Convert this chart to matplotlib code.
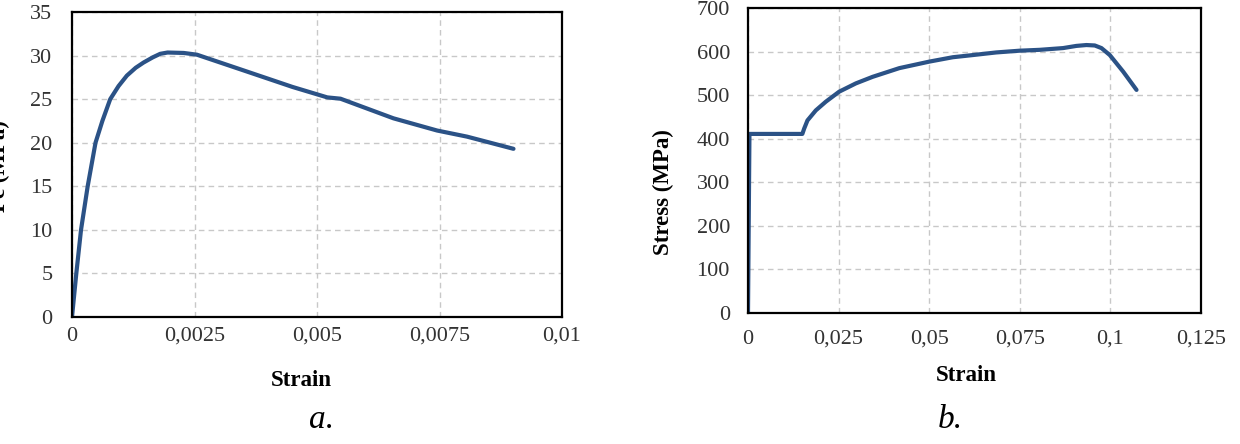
import matplotlib
matplotlib.use("Agg")
import matplotlib.pyplot as plt
from matplotlib.ticker import FuncFormatter

# concrete compression curve (a.)
strain_a = [0, 0.000088, 0.000184, 0.00032, 0.00048, 0.00062, 0.00078,
            0.00095, 0.00112, 0.0013, 0.00146, 0.00165, 0.0018, 0.00195,
            0.00228, 0.00255, 0.0035, 0.0045, 0.00521, 0.00548, 0.00656,
            0.00745, 0.00806, 0.00901]
fc_a = [0, 5, 10, 15, 20, 22.5, 25, 26.5, 27.7, 28.6, 29.2, 29.8, 30.2, 30.35,
        30.3, 30.1, 28.3, 26.4, 25.2, 25.05, 22.8, 21.4, 20.7, 19.3]

# steel tension curve (b.)
strain_b = [0, 0.0004, 0.015, 0.01549, 0.01641, 0.01871, 0.02148, 0.02517,
            0.02977, 0.03438, 0.04176, 0.05006, 0.05651, 0.06204, 0.06849,
            0.07494, 0.08047, 0.08693, 0.09061, 0.09338, 0.09569, 0.09753,
            0.09983, 0.10352, 0.10721]
stress_b = [0, 411, 411, 423, 442, 465, 485, 508, 527, 542, 562, 577, 587,
            592, 598, 602, 604, 608, 613, 615, 614, 608, 592, 554, 512]

xticks_a = [0, 0.0025, 0.005, 0.0075, 0.01]
yticks_a = [0, 5, 10, 15, 20, 25, 30, 35]
xticks_b = [0, 0.025, 0.05, 0.075, 0.1, 0.125]
yticks_b = [0, 100, 200, 300, 400, 500, 600, 700]

line_color = "#2b5286"
serif = "Liberation Serif"
W, H = 1240, 444

plt.rcParams["font.family"] = serif
fig = plt.figure(figsize=(12.4, 4.44), dpi=100)


def comma(v, pos):
    s = ("%.4f" % v).rstrip("0").rstrip(".")
    return s.replace(".", ",")


def style(ax, xt, yt, xpad, ypad):
    ax.set_xticks(xt)
    ax.set_yticks(yt)
    ax.set_xlim(xt[0], xt[-1])
    ax.set_ylim(yt[0], yt[-1])
    ax.xaxis.set_major_formatter(FuncFormatter(comma))
    ax.grid(True, color="#c8c8c8", linestyle=(0, (4, 3)), linewidth=1)
    ax.tick_params(length=0, labelsize=16, colors="#333333")
    ax.tick_params(axis="x", pad=xpad)
    ax.tick_params(axis="y", pad=ypad)
    for sp in ax.spines.values():
        sp.set_linewidth(1.6)
        sp.set_color("black")
    ax.set_axisbelow(True)


ax1 = fig.add_axes([72 / W, 1 - 317 / H, 490 / W, 305 / H])
ax1.plot(strain_a, fc_a, color=line_color, lw=3,
         solid_capstyle="round", solid_joinstyle="round")
style(ax1, xticks_a, yticks_a, 7, 14)

ax2 = fig.add_axes([748 / W, 1 - 313 / H, 453 / W, 305 / H])
ax2.plot(strain_b, stress_b, color=line_color, lw=3,
         solid_capstyle="round", solid_joinstyle="round")
style(ax2, xticks_b, yticks_b, 12, 13)

fig.text(301 / W, 1 - 380 / H, "Strain", ha="center", va="center",
         fontsize=16.5, fontweight="bold")
fig.text(966 / W, 1 - 375 / H, "Strain", ha="center", va="center",
         fontsize=16.5, fontweight="bold")
fig.text(-1 / W, 1 - 166 / H, "Fc (MPa)", ha="center", va="center",
         rotation=90, fontsize=16.5, fontweight="bold")
fig.text(663 / W, 1 - 192 / H, "Stress (MPa)", ha="center", va="center",
         rotation=90, fontsize=16.5, fontweight="bold")
fig.text(322 / W, 1 - 420 / H, "a.", ha="center", va="center",
         fontsize=24, fontstyle="italic")
fig.text(950 / W, 1 - 420 / H, "b.", ha="center", va="center",
         fontsize=24, fontstyle="italic")

fig.savefig("out.png", dpi=100)
